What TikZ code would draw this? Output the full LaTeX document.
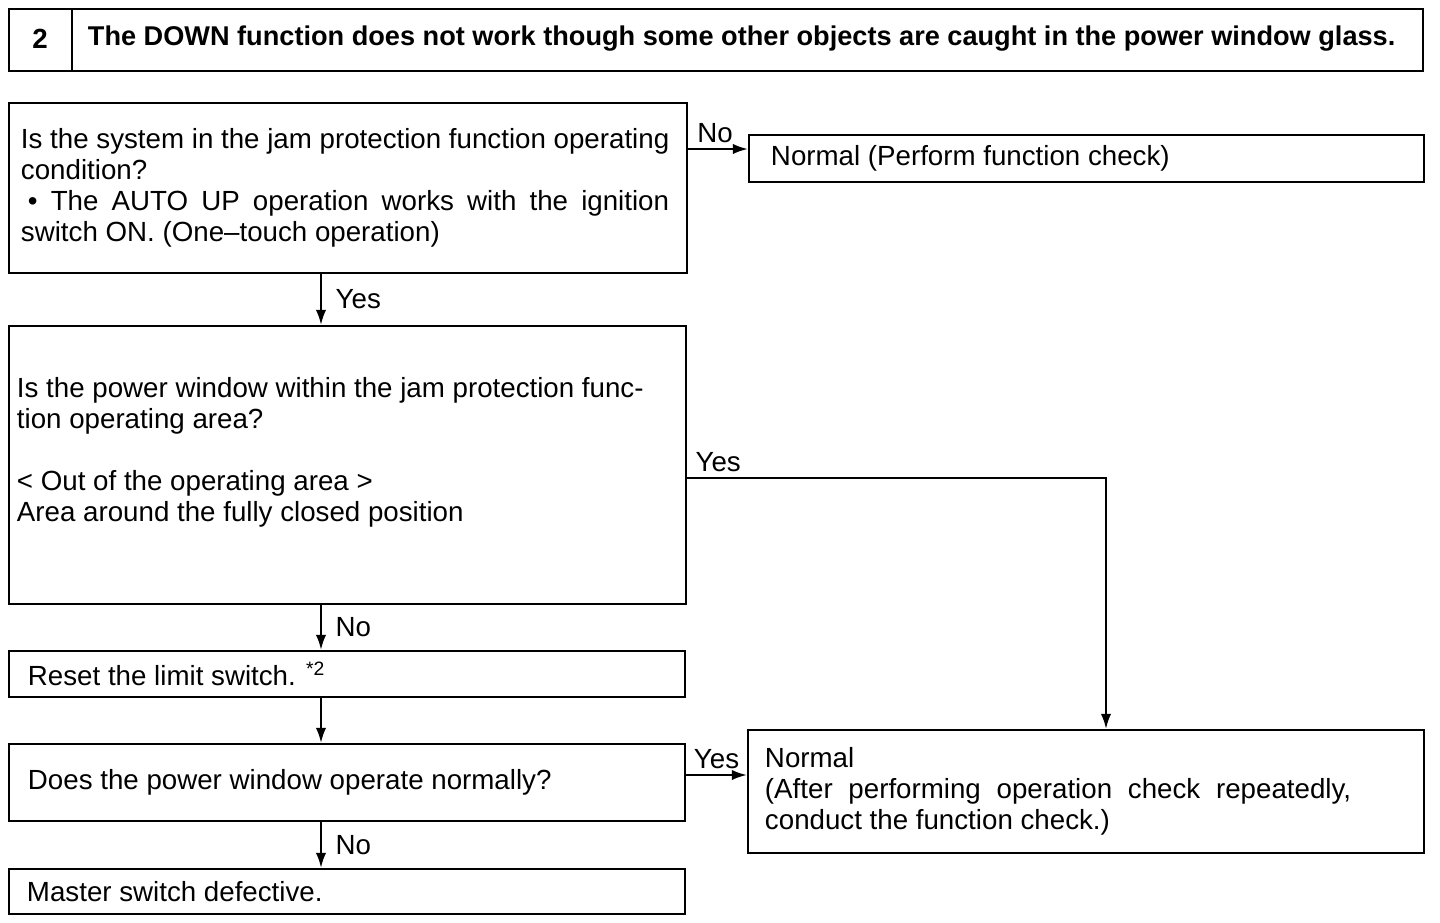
\documentclass[tikz,border=0pt]{standalone}
\usepackage{fontspec}
\setmainfont{Liberation Sans}
\usetikzlibrary{positioning, arrows.meta}
\usetikzlibrary{calc}

% 拉满一行(两端对齐)
\newcommand{\fullline}[2]{\makebox[#1][s]{#2}}

\begin{document}
\begin{tikzpicture}[
        x=0.025cm, y=-0.025cm,
        font=\fontsize{19.7}{22}\selectfont,
        box/.style={rectangle, draw=black, line width=1.4pt, anchor=north west, inner ysep=0pt, align=justify},
        arrow/.style={line width=1.6pt, -{Latex[length=0.38cm, width=0.26cm]}},
        lbl/.style={inner sep=0.12cm},
        vlbl/.style={lbl, right, xshift=0.22cm}
    ]
        \useasboundingbox (0,0) rectangle (1440,922);

        % ===== 标题 =====
        \node (title) [box, minimum width=35.35cm, minimum height=1.55cm] at (8,8) {};
        \draw [line width=1.4pt] ([xshift=1.6cm]title.north west) -- ([xshift=1.6cm]title.south west);
        \node (num) at (40,39) {\bfseries 2};
        \node (head) [anchor=west, font=\fontsize{19.3}{22}\selectfont\bfseries] at (83,39) {The DOWN function does not work though some other objects are caught in the power window glass.};

        % ===== 主流程 =====
        \node (q1) [box, inner xsep=0.3cm, text width=16.35cm, minimum height=4.25cm] at (8,102)
            {Is the system in the jam protection function operating\\
             condition?\\
             \fullline{16.2cm}{\hspace*{0.25em}• The AUTO UP operation works with the ignition}\\
             switch ON. (One–touch operation)};
        \node (ok1) [box, inner xsep=0.55cm, text width=15.775cm, minimum height=1.175cm] at (748,134)
            {Normal (Perform function check)};
        \node (q2) [box, inner xsep=0.2cm, text width=16.525cm, minimum height=6.95cm] at (8,325)
            {Is the power window within the jam protection func-\\
             tion operating area?\\[22pt]
             < Out of the operating area >\\
             Area around the fully closed position\\ \mbox{}};
        \node (reset) [box, inner xsep=0.475cm, text width=15.95cm, minimum height=1.15cm] at (8,650)
            {Reset the limit switch. \textsuperscript{*2}};
        \node (q3) [box, inner xsep=0.475cm, text width=15.95cm, minimum height=1.925cm] at (8,743)
            {Does the power window operate normally?};
        \node (ok2) [box, inner xsep=0.425cm, text width=16.05cm, minimum height=3.075cm] at (747,729)
            {Normal\\
             \fullline{14.65cm}{(After performing operation check repeatedly,}\\
             conduct the function check.)};
        \node (master) [box, inner xsep=0.45cm, text width=16cm, minimum height=1.125cm] at (8,868)
            {Master switch defective.};

        % ===== 辅助点 =====
        \coordinate (spine) at (321,0);
        \coordinate (noY) at (0,149);
        \coordinate (bend) at (1106,478);
        \coordinate (yesY) at (0,775);

        % ===== 箭头路径 =====
        \draw [arrow] (q1.east |- noY) -- node[lbl, above, pos=0.45] {No} (ok1.west |- noY);
        \draw [arrow] (q1.south -| spine) -- node[vlbl] {Yes} (q2.north -| spine);
        \draw [arrow] (q2.east |- bend) -- node[lbl, above, pos=0.074] {Yes} (bend) -- (ok2.north -| bend);
        \draw [arrow] (q2.south -| spine) -- node[vlbl] {No} (reset.north -| spine);
        \draw [arrow] (reset.south -| spine) -- (q3.north -| spine);
        \draw [arrow] (q3.east |- yesY) -- node[lbl, above] {Yes} (ok2.west |- yesY);
        \draw [arrow] (q3.south -| spine) -- node[vlbl] {No} (master.north -| spine);

    \end{tikzpicture}
\end{document}
